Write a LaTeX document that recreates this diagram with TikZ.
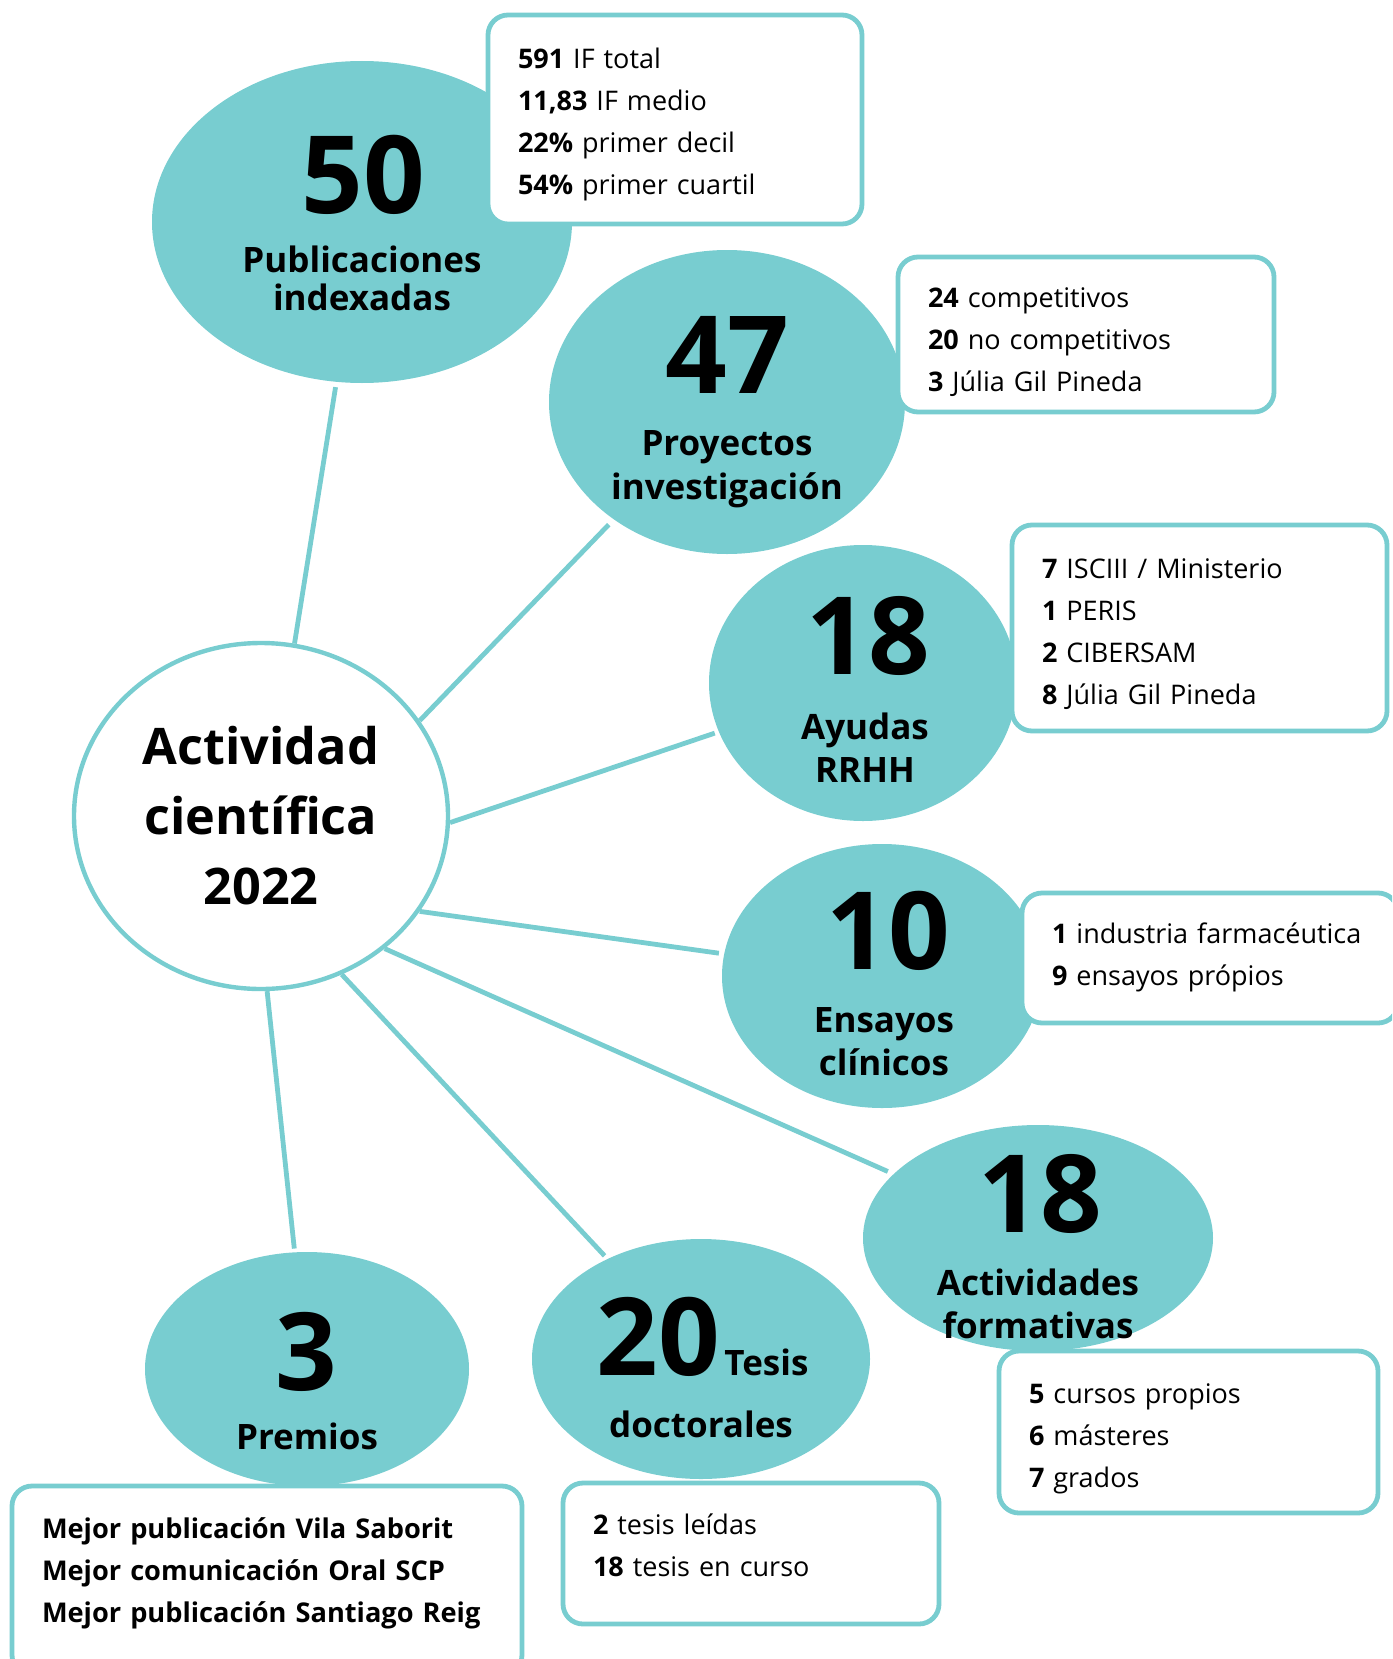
\documentclass[tikz,border=0pt]{standalone}
\usepackage{fontspec}
\IfFontExistsTF{NotoSans-Bold.ttf}
  {\setmainfont{NotoSans}[Extension=.ttf, UprightFont=*-Regular,
                          BoldFont=*-Bold]}
  {\IfFontExistsTF{Open Sans Bold}
     {\setmainfont{Open Sans}[BoldFont={Open Sans Bold}]}
     {\setmainfont{Noto Sans}[AutoFakeBold=2.2]}}
\usetikzlibrary{shapes.geometric}
\definecolor{bubblecol}{RGB}{120, 205, 208}

\begin{document}
\begin{tikzpicture}[x=0.5pt, y=-0.5pt,
    bub/.style={ellipse, fill=bubblecol, inner sep=0pt},
    hubnode/.style={ellipse, draw=bubblecol, fill=white,
                    line width=2.2pt, inner sep=0pt, align=center,
                    font=\bfseries\fontsize{25.2}{35}\selectfont},
    num/.style={inner sep=0pt,
                font=\bfseries\fontsize{54}{54}\selectfont},
    lbl/.style={inner sep=0pt, align=center,
                font=\bfseries\fontsize{17.5}{21.5}\selectfont},
    infobox/.style={draw=bubblecol, line width=2.4pt, fill=white,
                    rounded corners=10pt, align=left,
                    inner xsep=15pt, inner ysep=4pt,
                    font=\fontsize{13.5}{21}\selectfont},
    link/.style={draw=bubblecol, line width=2.4pt},
  ]
  \useasboundingbox (0,0) rectangle (1392,1659);
  \clip (0,0) rectangle (1392,1659);

  % bubbles
  \node[bub, minimum width=210pt, minimum height=161pt] (pub) at (362,222) {};
  \node[bub, minimum width=178pt, minimum height=152pt] (proy) at (727,402) {};
  \node[bub, minimum width=154pt, minimum height=138pt] (ayu) at (863,683) {};
  \node[bub, minimum width=160pt, minimum height=132pt] (ens) at (882,976) {};
  \node[bub, minimum width=175pt, minimum height=113pt] (act) at (1038,1238) {};
  \node[bub, minimum width=169pt, minimum height=120pt] (tes) at (701,1359) {};
  \node[bub, minimum width=162pt, minimum height=117pt] (prem) at (307,1369) {};

  % centre
  \node[hubnode, minimum width=187pt, minimum height=173pt] (hub)
      at (261,816) {Actividad\\científica\\2022};

  % links
  \draw[link, shorten >=2.5pt] (hub.79) -- (pub);
  \draw[link, shorten >=3.5pt] (hub.31) -- (proy);
  \draw[link, shorten >=2pt] (hub.-2) -- (ayu);
  \draw[link, shorten >=2.5pt] (hub.-31) -- (ens);
  \draw[link, shorten >=3pt] (hub.-47) -- (act);
  \draw[link, shorten >=2pt] (hub.-63) -- (tes);
  \draw[link, shorten >=1.7pt] (hub.-88) -- (prem);

  % detail boxes
  \node[infobox, minimum width=187pt, minimum height=104.5pt,
        text width=157pt, text depth=60.9pt] (pubbox) at (675,119.5)
      {\textbf{591} IF total\\\textbf{11,83} IF medio\\
       \textbf{22\%} primer decil\\\textbf{54\%} primer cuartil};
  \node[infobox, minimum width=188pt, minimum height=77.5pt,
        text width=158pt, text depth=36.9pt] (proybox) at (1086,334.5)
      {\textbf{24} competitivos\\\textbf{20} no competitivos\\
       \textbf{3} Júlia Gil Pineda};
  \node[infobox, minimum width=187.5pt, minimum height=103pt,
        text width=157.5pt, text depth=59.1pt] (ayubox) at (1199.5,628)
      {\textbf{7} ISCIII / Ministerio\\\textbf{1} PERIS\\
       \textbf{2} CIBERSAM\\\textbf{8} Júlia Gil Pineda};
  \node[infobox, minimum width=188pt, minimum height=65pt,
        text width=158pt, text depth=25.2pt] (ensbox) at (1210,958)
      {\textbf{1} industria farmacéutica\\\textbf{9} ensayos própios};
  \node[infobox, minimum width=189.5pt, minimum height=81pt,
        text width=159.5pt, text depth=38.9pt] (actbox) at (1188.5,1432)
      {\textbf{5} cursos propios\\\textbf{6} másteres\\\textbf{7} grados};
  \node[infobox, minimum width=188pt, minimum height=70.5pt,
        text width=158pt, text depth=29.5pt] (tesbox) at (751,1553.5)
      {\textbf{2} tesis leídas\\\textbf{18} tesis en curso};
  \node[infobox, minimum width=255pt, minimum height=94.5pt,
        text width=225pt, text depth=52.3pt,
        font=\bfseries\fontsize{13.6}{21}\selectfont] (prembox) at (267,1580.5)
      {Mejor publicación Vila Saborit\\Mejor comunicación Oral SCP\\
       Mejor publicación Santiago Reig};

  % figures and captions
  \node[num] (pubnum) at (363,174.5) {50};
  \node[lbl, font=\bfseries\fontsize{17.5}{19}\selectfont] (publbl)
      at (362,278) {Publicaciones\\indexadas};
  \node[num] (proynum) at (727,355) {47};
  \node[lbl, font=\bfseries\fontsize{17.5}{22}\selectfont] (proylbl)
      at (727,469) {Proyectos\\investigación};
  \node[num] (ayunum) at (868,636) {18};
  \node[lbl] (ayulbl) at (865,748) {Ayudas\\RRHH};
  \node[num] (ensnum) at (888,931) {10};
  \node[lbl] (enslbl) at (884,1042) {Ensayos\\clínicos};
  \node[num] (actnum) at (1040,1193.5) {18};
  \node[lbl] (actlbl) at (1038,1304) {Actividades\\formativas};
  \node[num] (tesnum) at (658,1337) {20};
  \node[lbl, anchor=base west, xshift=2pt] (teslbl) at (tesnum.base east) {Tesis};
  \node[lbl] (tesdoc) at (701,1424) {doctorales};
  \node[num] (premnum) at (306,1352) {3};
  \node[lbl] (premlbl) at (307,1436.5) {Premios};
\end{tikzpicture}
\end{document}
